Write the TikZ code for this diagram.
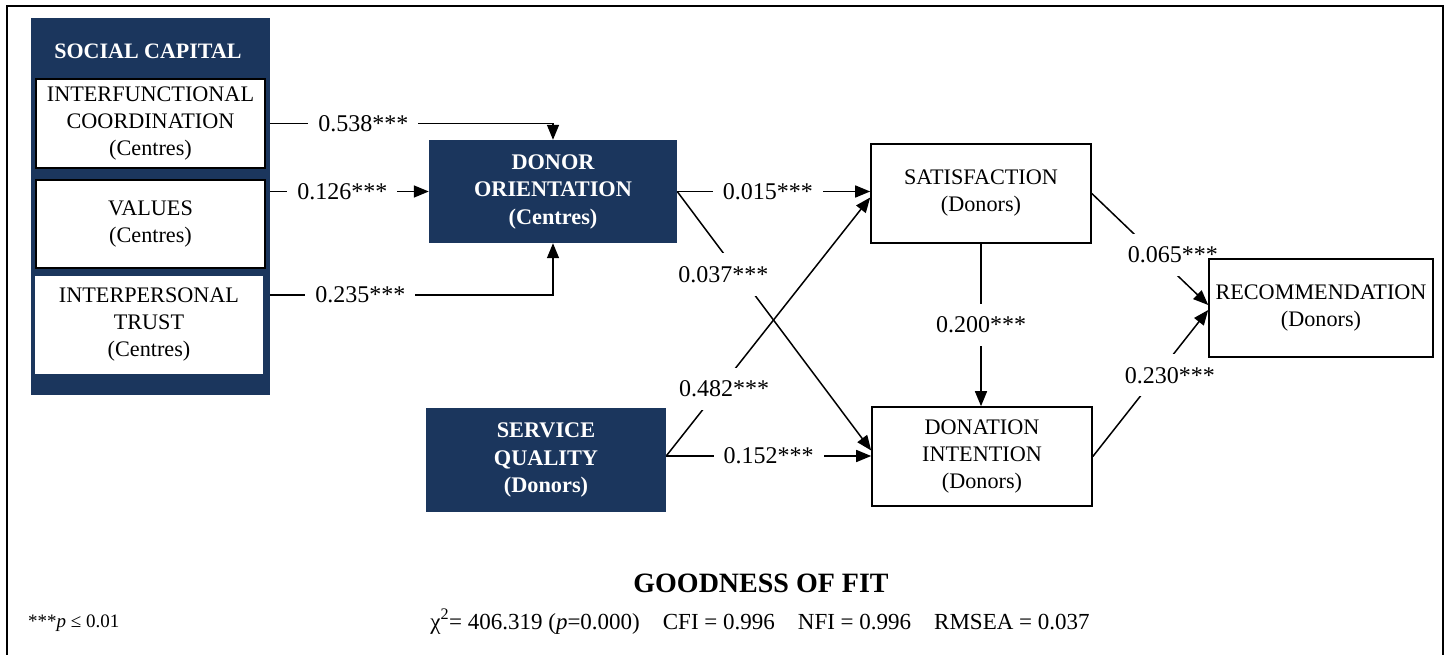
\documentclass[tikz,border=0pt]{standalone}
\usepackage{fontspec}
\setmainfont{Liberation Serif}
\usetikzlibrary{arrows.meta}
\pgfdeclarelayer{fg}
\pgfsetlayers{main,fg}
\definecolor{navy}{HTML}{1B365D}
\begin{document}
\begin{tikzpicture}[x=1pt,y=-1pt,
  box/.style={draw=black, line width=1.6pt, fill=white, align=center, inner sep=0pt,
    font=\fontsize{22.2}{27}\selectfont},
  dbox/.style={fill=navy, text=white, align=center, inner sep=0pt,
    font=\fontsize{22.3}{27.5}\selectfont\bfseries},
  conn/.style={line width=1.5pt, -{Triangle[length=15pt,width=12pt]}},
  lbl/.style={fill=white, inner xsep=10pt, inner ysep=13pt, font=\fontsize{24}{28}\selectfont},
]
\useasboundingbox (0,0) rectangle (1447,655);
\draw[line width=1.5pt] (7,655) -- (7,6) -- (1443,6) -- (1443,655);

\begin{pgfonlayer}{fg}
\node[fill=navy, minimum width=239pt, minimum height=377pt, inner sep=0pt] (scpanel) at (150.5,206.5) {};
\node[text=white, font=\fontsize{22}{26}\selectfont\bfseries] (sctitle) at (148,51.5) {SOCIAL CAPITAL};
\node[box, minimum width=229pt, minimum height=89pt] (ic) at (150.5,123.5) {INTERFUNCTIONAL\\COORDINATION\\(Centres)};
\node[box, minimum width=229pt, minimum height=88pt] (val) at (150.5,224) {VALUES\\(Centres)};
\node[box, draw=none, minimum width=228pt, minimum height=98pt] (it) at (149,325) {INTERPERSONAL\\TRUST\\(Centres)};
\node[dbox, minimum width=248pt, minimum height=103pt] (do) at (553,191.5) {DONOR\\ORIENTATION\\(Centres)};
\node[dbox, minimum width=240pt, minimum height=104pt] (sq) at (546,460) {SERVICE\\QUALITY\\(Donors)};
\node[box, minimum width=220pt, minimum height=99pt] (sat) at (981,193.5) {SATISFACTION\\(Donors)};
\node[box, minimum width=220pt, minimum height=99pt] (di) at (982,456.5) {DONATION\\INTENTION\\(Donors)};
\node[box, minimum width=224pt, minimum height=98pt] (rec) at (1321,308) {RECOMMENDATION\\(Donors)};
\end{pgfonlayer}

\draw[conn] (ic.east) -| node[lbl, pos=0.17] {0.538***} (do.north);
\draw[conn] (val.east |- do.west) -- node[lbl, pos=0.47] {0.126***} (do.west);
\draw[conn] ([yshift=30pt]it.east) -| node[lbl, pos=0.167] {0.235***} (do.south);
\draw[conn] (do.east) -- node[lbl, pos=0.47] {0.015***} (do.east -| sat.west);
\draw[conn] (do.east) -- node[lbl, pos=0.32, xshift=-16pt] {0.037***} ([yshift=6pt]di.west);
\draw[conn] ([yshift=4pt]sq.east) -- node[lbl, pos=0.26, xshift=5pt] {0.482***} ([yshift=-4pt]sat.west);
\draw[conn] ([yshift=4pt]sq.east) -- node[lbl, pos=0.5] {0.152***} ([yshift=4pt]sq.east -| di.west);
\draw[conn] (sat.south) -- node[lbl, pos=0.5] {0.200***} (sat.south |- di.north);
\draw[conn] (sat.east) -- node[lbl, pos=0.55, xshift=17pt] {0.065***} ([yshift=3pt]rec.west);
\draw[conn] (di.east) -- node[lbl, pos=0.555, xshift=13pt] {0.230***} ([yshift=-2pt]rec.west);

\node[anchor=base, font=\fontsize{28}{32}\selectfont\bfseries] (gof) at (761,592) {GOODNESS OF FIT};
\node[anchor=base, font=\fontsize{23}{27}\selectfont] (fit) at (760,629)
  {χ\textsuperscript{2}= 406.319 (\textit{p}=0.000)\quad CFI = 0.996\quad NFI = 0.996\quad RMSEA = 0.037};
\node[anchor=base west, inner sep=0pt, font=\fontsize{19}{22}\selectfont] (note) at (28,627) {***\textit{p} ≤ 0.01};
\end{tikzpicture}
\end{document}
